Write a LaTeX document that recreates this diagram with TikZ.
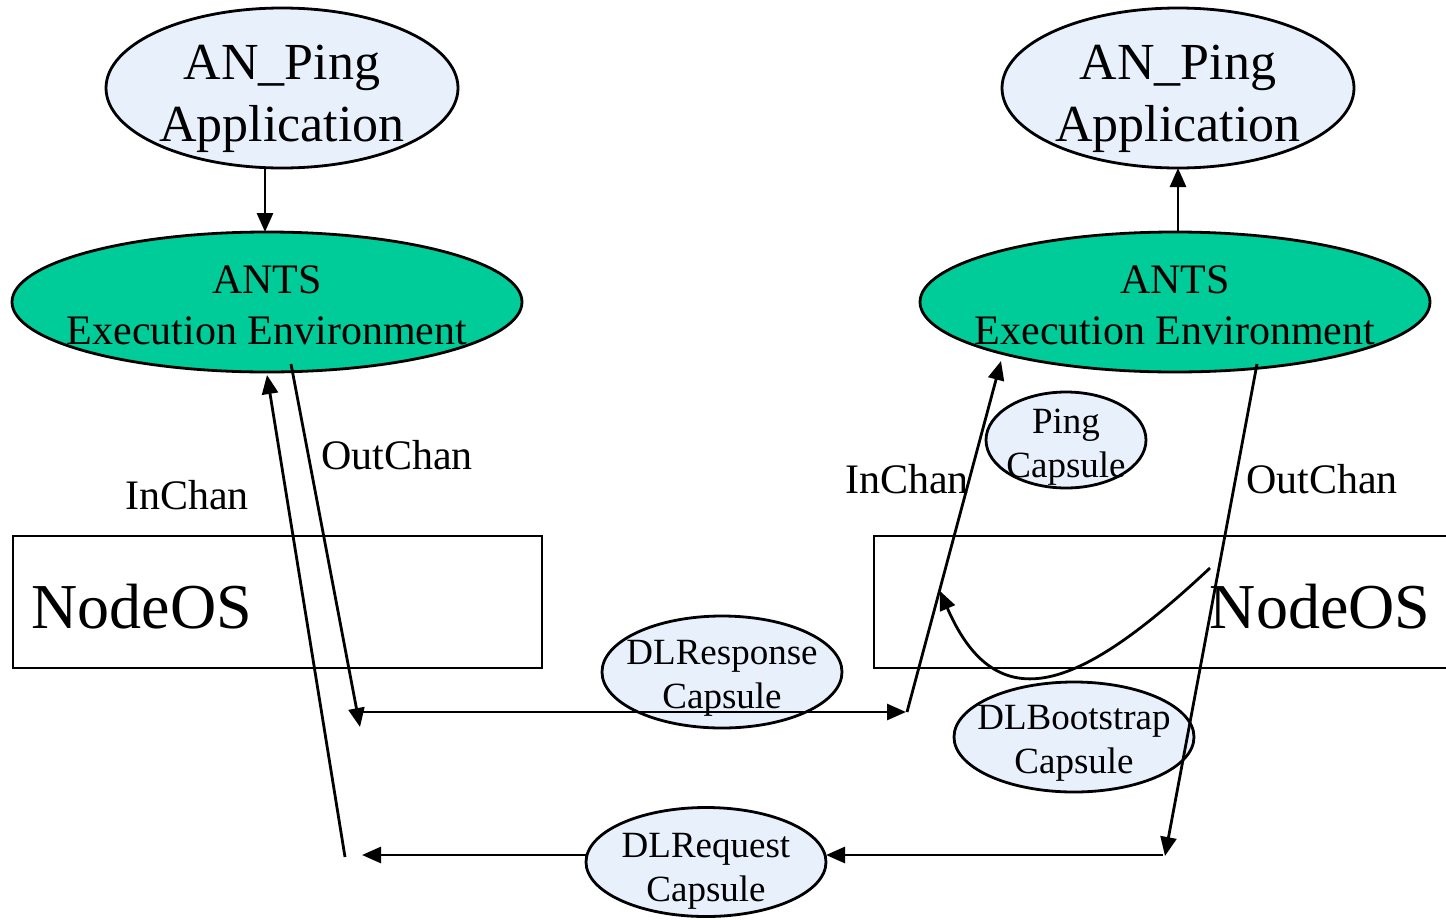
\documentclass[tikz,border=0pt]{standalone}
\usepackage{fontspec}
\setmainfont{Liberation Serif}
\usetikzlibrary{arrows.meta,shapes.geometric}
\definecolor{capblue}{RGB}{232,240,252}
\definecolor{antsgreen}{RGB}{0,204,153}
\begin{document}
\begin{tikzpicture}[x=1pt,y=-1pt,
  every node/.style={inner sep=0pt, outer sep=0pt},
  line width=2.8pt,
  arr/.style={-{Triangle[length=19pt,width=16pt]}},
  shp/.style={ellipse, draw, line width=2.8pt},
  appell/.style={shp, fill=capblue, minimum width=352pt, minimum height=160pt},
  antsell/.style={shp, fill=antsgreen, minimum width=510pt, minimum height=140pt},
  capell/.style={shp, fill=capblue, minimum width=240pt, minimum height=110pt},
  apptext/.style={align=center, font=\fontsize{52}{62}\selectfont},
  antstext/.style={align=center, font=\fontsize{42}{51}\selectfont},
  captext/.style={align=center, font=\fontsize{37}{44}\selectfont},
  chantext/.style={font=\fontsize{42}{50}\selectfont},
  ostext/.style={font=\fontsize{64}{70}\selectfont},
  osbox/.style={draw, line width=2.8pt}
]
\useasboundingbox (0,0) rectangle (1446,919);
\clip (0,0) rectangle (1446,919);

% NodeOS boxes
\draw[osbox] (13,536) rectangle (542,668);
\draw[osbox] (874,536) rectangle (1460,668);
\node[ostext] (os1) at (142,607) {NodeOS};
\node[ostext] (os2) at (1320,607) {NodeOS};

% Application ellipses
\node[appell] (app1) at (282,88) {};
\node[apptext] (app1t) at (282,99) {AN\_Ping\\Application};
\node[appell] (app2) at (1178,88) {};
\node[apptext] (app2t) at (1178,99) {AN\_Ping\\Application};

% ANTS ellipses
\node[antsell] (ants1) at (267,302) {};
\node[antstext] (ants1t) at (267,305) {ANTS\\Execution Environment};
\node[antsell] (ants2) at (1175,302) {};
\node[antstext] (ants2t) at (1175,305) {ANTS\\Execution Environment};

% Capsules
\node[capell, minimum width=160pt, minimum height=96pt] (ping) at (1066,440) {};
\node[captext] (pingt) at (1066,447) {Ping\\Capsule};
\node[capell, minimum height=112pt] (resp) at (722,672) {};
\node[captext] (respt) at (722,678) {DLResponse\\Capsule};
\node[capell] (boot) at (1074,737) {};
\node[captext] (boott) at (1074,743) {DLBootstrap\\Capsule};
\node[capell, minimum height=109pt] (req) at (706,862) {};
\node[captext] (reqt) at (706,871) {DLRequest\\Capsule};

% Channel labels
\node[chantext] (oc1) at (397,455) {OutChan};
\node[chantext] (ic1) at (187,495) {InChan};
\node[chantext] (ic2) at (907,479) {InChan};
\node[chantext] (oc2) at (1322,479) {OutChan};

% free ends
\coordinate (oLs) at (291,364);
\coordinate (oLe) at (360,727);
\coordinate (rsS) at (362,712);
\coordinate (rsE) at (906,712);
\coordinate (iRs) at (907,712);
\coordinate (iRe) at (1001,361);
\coordinate (oRs) at (1257,364);
\coordinate (oRe) at (1165,856);
\coordinate (rqS) at (1163,855);
\coordinate (rqE) at (362,855);
\coordinate (iLs) at (345,857);
\coordinate (iLe) at (267,375);
\coordinate (cvS) at (1210,568);
\coordinate (cvE) at (940,591);

% connectors
\draw[arr] (app1.south -| 265,0) -- (ants1.north -| 265,0);
\draw[arr] (ants2.north -| app2.south) -- (app2.south);
\draw[arr] (oLs) -- (oLe);
\draw[arr] (rsS) -- (rsE);
\draw[arr] (iRs) -- (iRe);
\draw[arr] (oRs) -- (oRe);
\draw[arr] (rqS) -- (rqS -| req.east);
\draw[arr] (rqS -| req.west) -- (rqE);
\draw[arr] (iLs) -- (iLe);
\draw[arr] (cvS) .. controls (1090,680) and (1000,730) .. (cvE);
\end{tikzpicture}
\end{document}
